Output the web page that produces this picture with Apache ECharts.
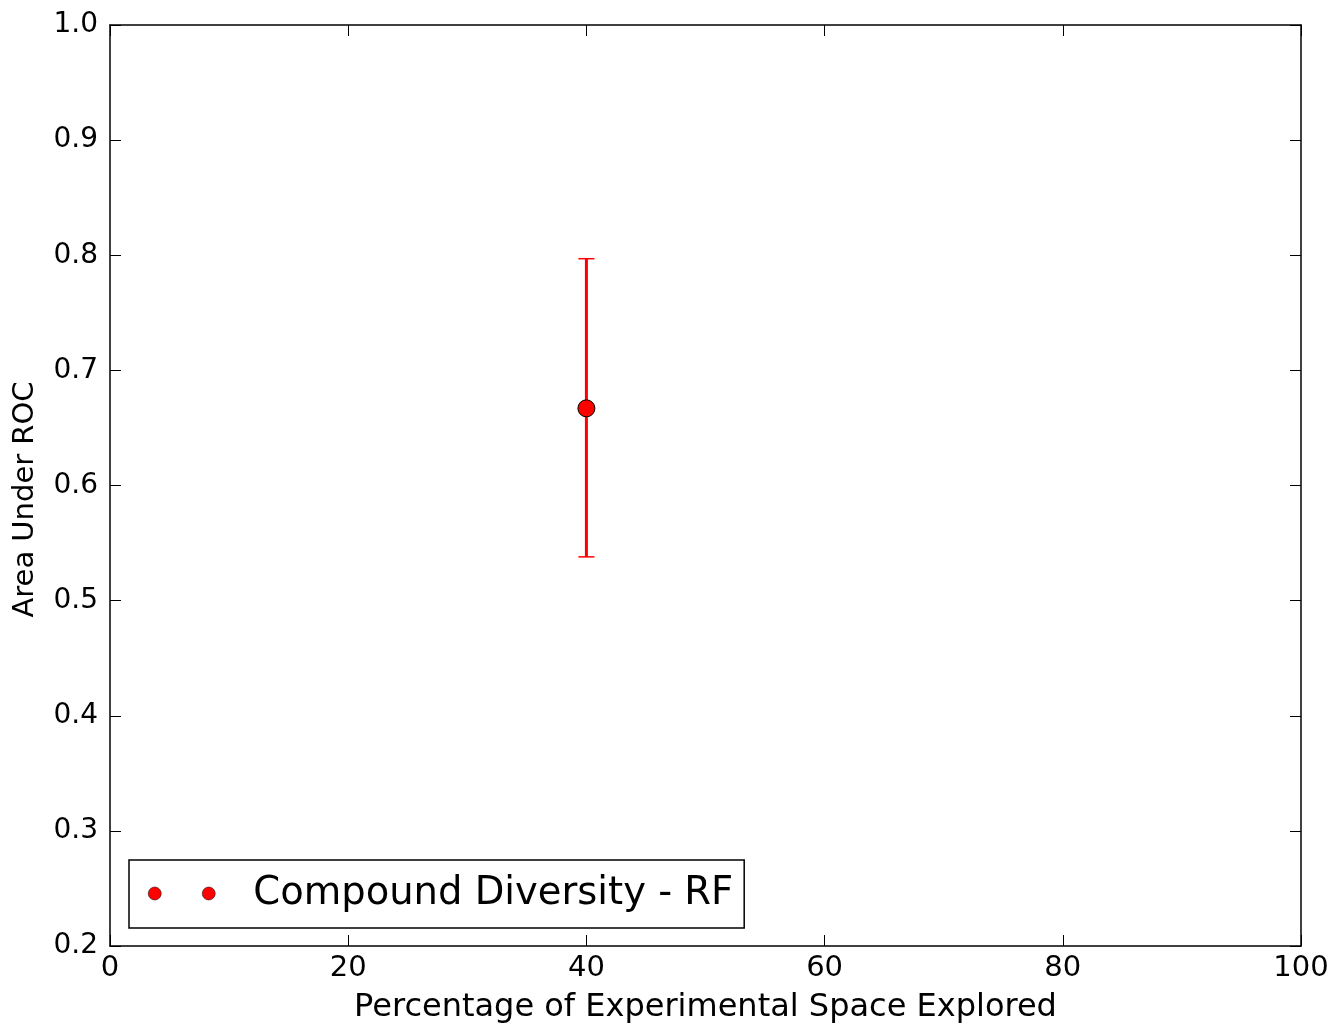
<!DOCTYPE html>
<html>
<head>
<meta charset="utf-8">
<title>Area Under ROC</title>
<script src="https://cdn.jsdelivr.net/npm/echarts@6/dist/echarts.min.js"></script>
<style>
  html, body { margin: 0; padding: 0; background: #fff; }
  #main { width: 1337px; height: 1027px; }
</style>
</head>
<body>
<div id="main"></div>
<script>
// data
var seriesName = 'Compound Diversity - RF';
var xValues = [40];
var meanValues = [0.667];
var lowValues = [0.538];
var highValues = [0.797];

var points = xValues.map(function (x, i) { return [x, meanValues[i]]; });
var bars = xValues.map(function (x, i) { return [x, lowValues[i], highValues[i]]; });

var font = 'DejaVu Sans';
// matplotlib-style legend handle: two markers
var twoDots = 'path://M0,6.5a6.5,6.5 0 1,0 13,0a6.5,6.5 0 1,0 -13,0M54,6.5a6.5,6.5 0 1,0 13,0a6.5,6.5 0 1,0 -13,0';

function xAxisCfg(pos, showLabel) {
  return {
    type: 'value', position: pos, min: 0, max: 100, interval: 20,
    axisLine: { show: true, onZero: false, lineStyle: { color: '#000', width: 1.5 } },
    axisTick: { show: true, inside: true, length: 11, lineStyle: { color: '#000', width: 1 } },
    axisLabel: { show: showLabel, color: '#000', fontFamily: font, fontSize: 29, margin: 8 },
    splitLine: { show: false }
  };
}
function yAxisCfg(pos, showLabel) {
  return {
    type: 'value', position: pos, min: 0.2, max: 1.0, interval: 0.1,
    axisLine: { show: true, onZero: false, lineStyle: { color: '#000', width: 1.5 } },
    axisTick: { show: true, inside: true, length: 11, lineStyle: { color: '#000', width: 1 } },
    axisLabel: {
      show: showLabel, color: '#000', fontFamily: font, fontSize: 28, margin: 12,
      formatter: function (v) { return v.toFixed(1); }
    },
    splitLine: { show: false }
  };
}

var chart = echarts.init(document.getElementById('main'));
var bottomX = xAxisCfg('bottom', true);
bottomX.name = 'Percentage of Experimental Space Explored';
bottomX.nameLocation = 'middle';
bottomX.nameGap = 46;
bottomX.nameTextStyle = { color: '#000', fontFamily: font, fontSize: 32 };
var leftY = yAxisCfg('left', true);
leftY.name = 'Area Under ROC';
leftY.nameLocation = 'middle';
leftY.nameGap = 70;
leftY.nameTextStyle = { color: '#000', fontFamily: font, fontSize: 29, padding: [0, 28, 0, 0] };

var option = {
  animation: false,
  backgroundColor: '#fff',
  grid: { left: 110, top: 25, right: 36, bottom: 81, containLabel: false, outerBoundsMode: 'none' },
  xAxis: [bottomX, xAxisCfg('top', false)],
  yAxis: [leftY, yAxisCfg('right', false)],
  legend: {
    left: 129, top: 860,
    orient: 'vertical',
    padding: [14, 11, 15, 19],
    borderColor: '#000', borderWidth: 1.5, borderRadius: 0,
    backgroundColor: '#fff',
    itemWidth: 67, itemHeight: 13,
    data: [{ name: seriesName, icon: twoDots, itemStyle: { color: '#ff0000', borderColor: '#000', borderWidth: 0.5 } }],
    textStyle: { color: '#000', fontFamily: font, fontSize: 38.5, padding: [0, 0, 0, 33] }
  },
  series: [
    {
      name: seriesName + ' err',
      type: 'custom',
      data: bars,
      renderItem: function (params, api) {
        var x = api.value(0);
        var lo = api.coord([x, api.value(1)]);
        var hi = api.coord([x, api.value(2)]);
        var cap = 8;
        var style = { stroke: '#ff0000', lineWidth: 3 };
        var capStyle = { stroke: '#ff0000', lineWidth: 1.5 };
        return {
          type: 'group',
          children: [
            { type: 'line', shape: { x1: lo[0], y1: lo[1], x2: hi[0], y2: hi[1] }, style: style },
            { type: 'line', shape: { x1: lo[0] - cap, y1: lo[1], x2: lo[0] + cap, y2: lo[1] }, style: capStyle },
            { type: 'line', shape: { x1: hi[0] - cap, y1: hi[1], x2: hi[0] + cap, y2: hi[1] }, style: capStyle }
          ]
        };
      },
      z: 2
    },
    {
      name: seriesName,
      type: 'scatter',
      data: points,
      symbol: 'circle',
      symbolSize: 17,
      itemStyle: { color: '#ff0000', borderColor: '#000', borderWidth: 1, opacity: 1 },
      z: 3
    }
  ]
};
chart.setOption(option);
</script>
</body>
</html>
